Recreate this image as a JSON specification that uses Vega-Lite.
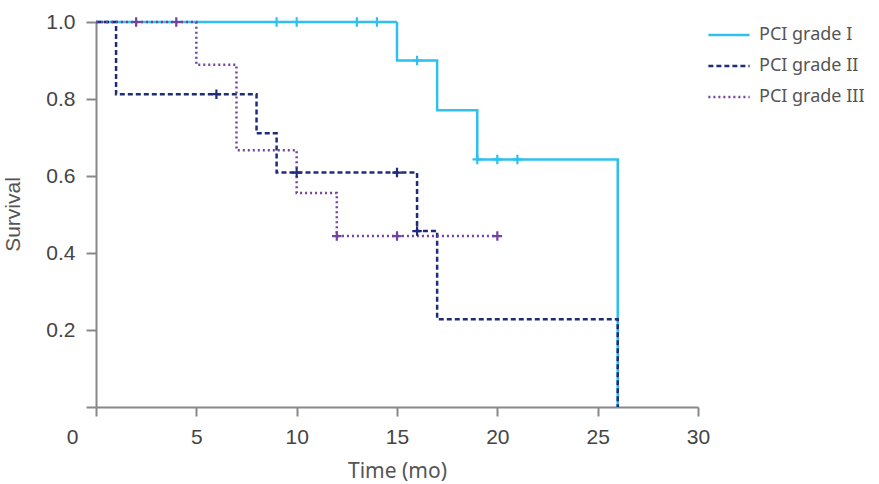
{
  "$schema": "https://vega.github.io/schema/vega-lite/v6.json",
  "width": 602,
  "height": 385,
  "autosize": "none",
  "padding": {"left": 96, "top": 22, "right": 181, "bottom": 77},
  "background": "white",
  "config": {"view": {"stroke": null}},
  "datasets": {
    "steps": [
      {"grade": "PCI grade I", "time": 0, "surv": 1.0},
      {"grade": "PCI grade I", "time": 15, "surv": 0.9},
      {"grade": "PCI grade I", "time": 17, "surv": 0.771},
      {"grade": "PCI grade I", "time": 19, "surv": 0.643},
      {"grade": "PCI grade I", "time": 26, "surv": 0.0},
      {"grade": "PCI grade II", "time": 0, "surv": 1.0},
      {"grade": "PCI grade II", "time": 1, "surv": 0.8125},
      {"grade": "PCI grade II", "time": 8, "surv": 0.711},
      {"grade": "PCI grade II", "time": 9, "surv": 0.609},
      {"grade": "PCI grade II", "time": 16, "surv": 0.457},
      {"grade": "PCI grade II", "time": 17, "surv": 0.228},
      {"grade": "PCI grade II", "time": 26, "surv": 0.0},
      {"grade": "PCI grade III", "time": 0, "surv": 1.0},
      {"grade": "PCI grade III", "time": 5, "surv": 0.889},
      {"grade": "PCI grade III", "time": 7, "surv": 0.667},
      {"grade": "PCI grade III", "time": 10, "surv": 0.556},
      {"grade": "PCI grade III", "time": 12, "surv": 0.444},
      {"grade": "PCI grade III", "time": 20, "surv": 0.444}
    ],
    "censors": [
      {"grade": "PCI grade I", "time": 9, "surv": 1.0},
      {"grade": "PCI grade I", "time": 10, "surv": 1.0},
      {"grade": "PCI grade I", "time": 13, "surv": 1.0},
      {"grade": "PCI grade I", "time": 14, "surv": 1.0},
      {"grade": "PCI grade I", "time": 16, "surv": 0.9},
      {"grade": "PCI grade I", "time": 19, "surv": 0.643},
      {"grade": "PCI grade I", "time": 20, "surv": 0.643},
      {"grade": "PCI grade I", "time": 21, "surv": 0.643},
      {"grade": "PCI grade II", "time": 6, "surv": 0.8125},
      {"grade": "PCI grade II", "time": 10, "surv": 0.609},
      {"grade": "PCI grade II", "time": 15, "surv": 0.609},
      {"grade": "PCI grade II", "time": 16, "surv": 0.457},
      {"grade": "PCI grade III", "time": 2, "surv": 1.0},
      {"grade": "PCI grade III", "time": 4, "surv": 1.0},
      {"grade": "PCI grade III", "time": 12, "surv": 0.444},
      {"grade": "PCI grade III", "time": 15, "surv": 0.444},
      {"grade": "PCI grade III", "time": 20, "surv": 0.444}
    ]
  },
  "encoding": {
    "x": {
      "field": "time", "type": "quantitative",
      "scale": {"domain": [0, 30], "nice": false, "zero": false},
      "axis": {
        "title": "Time (mo)",
        "values": [0, 5, 10, 15, 20, 25, 30],
        "grid": false,
        "labelFlush": false,
        "domainColor": "#888888", "domainWidth": 2,
        "tickColor": "#888888", "tickWidth": 2, "tickSize": 9,
        "labelFont": "Liberation Sans", "labelFontSize": 21, "labelColor": "#444444",
        "labelPadding": 10,
        "labelOffset": {"condition": {"test": "datum.value === 0", "value": -24}, "value": 0},
        "titleFont": "Noto Sans", "titleFontSize": 21, "titleFontWeight": "normal", "titleColor": "#555555",
        "titleBaseline": "middle", "titleY": 64
      }
    },
    "y": {
      "field": "surv", "type": "quantitative",
      "scale": {"domain": [0, 1], "nice": false},
      "axis": {
        "title": "Survival",
        "values": [0, 0.2, 0.4, 0.6, 0.8, 1.0],
        "labelExpr": "datum.value === 0 ? '' : format(datum.value, '.1f')",
        "grid": false,
        "domainColor": "#888888", "domainWidth": 2,
        "tickColor": "#888888", "tickWidth": 2, "tickSize": 10,
        "labelFont": "Liberation Sans", "labelFontSize": 21, "labelColor": "#444444",
        "labelPadding": 11,
        "titleFont": "Liberation Sans", "titleFontSize": 21, "titleFontWeight": "normal", "titleColor": "#555555",
        "titleAngle": 270, "titleBaseline": "middle", "titleAlign": "center",
        "titleX": -83, "titleY": 192
      }
    },
    "color": {
      "field": "grade", "type": "nominal",
      "scale": {
        "domain": ["PCI grade I", "PCI grade II", "PCI grade III"],
        "range": ["#2EC0EE", "#1F2C7C", "#7442A0"]
      }
    }
  },
  "layer": [
    {
      "data": {"name": "steps"},
      "mark": {"type": "line", "interpolate": "step-after", "strokeWidth": 2.5},
      "encoding": {
        "strokeDash": {
          "field": "grade", "type": "nominal",
          "scale": {
            "domain": ["PCI grade I", "PCI grade II", "PCI grade III"],
            "range": [[1, 0], [5, 3], [2, 3]]
          }
        },
        "color": {
          "field": "grade", "type": "nominal",
          "legend": {
            "title": null,
            "orient": "none", "legendX": 611, "legendY": -9,
            "symbolType": "stroke", "symbolSize": 1700, "symbolStrokeWidth": 2.5,
            "labelFont": "Noto Sans", "labelFontSize": 18, "labelColor": "#555555",
            "labelOffset": 8, "rowPadding": -1
          }
        }
      }
    },
    {
      "data": {"name": "censors"},
      "mark": {"type": "point", "shape": "M-1,0L1,0M0,-1L0,1", "filled": false, "strokeWidth": 2.2, "size": 90, "opacity": 1},
      "encoding": {
        "color": {"field": "grade", "type": "nominal", "legend": null}
      }
    }
  ]
}
